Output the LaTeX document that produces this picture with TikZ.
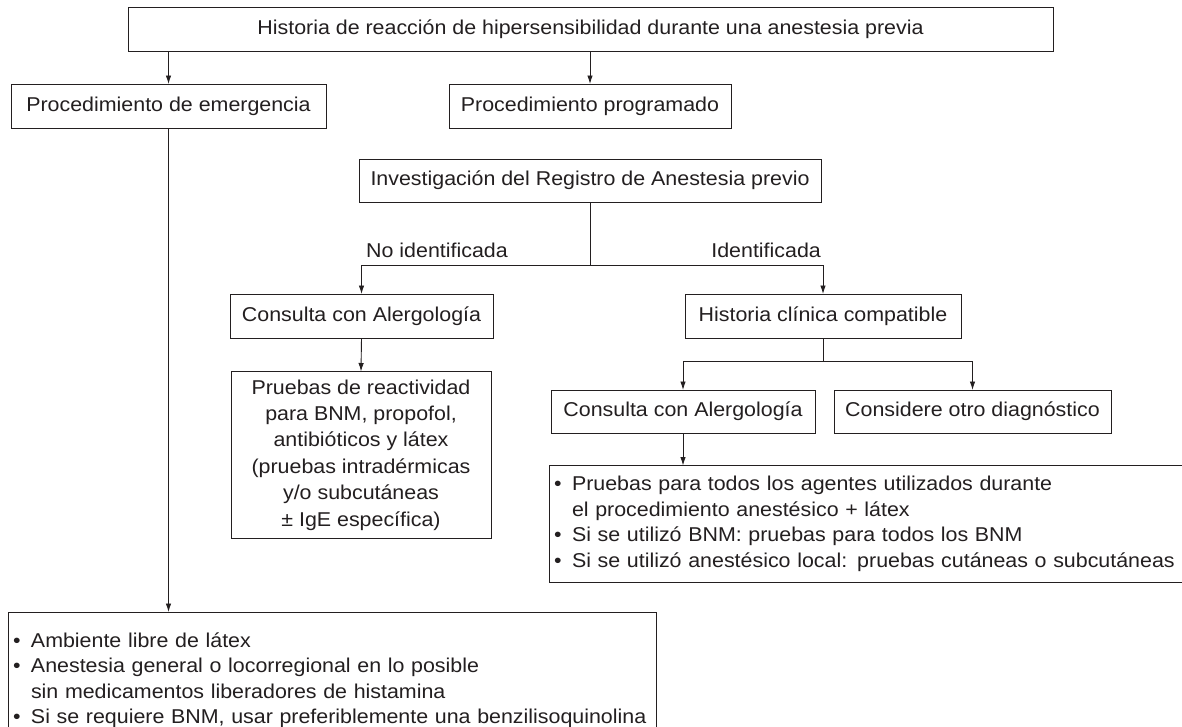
\documentclass[tikz,border=0pt]{standalone}
\usepackage{fontspec}
\setmainfont{Liberation Sans}[FakeStretch=1.07]
\usetikzlibrary{arrows.meta}
\definecolor{ink}{HTML}{231F20}
\begin{document}
\begin{tikzpicture}[x=1pt,y=-1pt,
  every node/.style={font=\fontsize{20}{25.5}\selectfont, text=ink},
  box/.style={draw=ink, line width=0.9pt, inner sep=0pt, outer sep=0pt, align=center},
  bulletbox/.style={draw=ink, line width=0.9pt, inner xsep=5pt, inner ysep=0pt, outer sep=0pt, align=left},
  arr/.style={draw=ink, line width=0.9pt, -{Latex[length=8.5pt,width=5.5pt]}},
  ln/.style={draw=ink, line width=0.9pt}]
\useasboundingbox (0,0) rectangle (1182,726);
\fill[white] (0,0) rectangle (1182,726);
\clip (0,0) rectangle (1182,726);

\node[box, minimum width=925pt, minimum height=44pt] (top) at (590.5,29)
  {Historia de reacción de hipersensibilidad durante una anestesia previa};
\node[box, minimum width=315pt, minimum height=44pt] (emer) at (168.5,106)
  {Procedimiento de emergencia};
\node[box, minimum width=282pt, minimum height=44pt] (prog) at (590,106)
  {Procedimiento programado};
\node[box, minimum width=462pt, minimum height=43pt] (inv) at (590,180.5)
  {Investigación del Registro de Anestesia previo};
\node[box, minimum width=263pt, minimum height=44pt] (consL) at (361.5,316)
  {Consulta con Alergología};
\node[box, minimum width=276pt, minimum height=44pt] (hist) at (823,316)
  {Historia clínica compatible};
\node[box, minimum width=260pt, minimum height=167pt,
  font=\fontsize{20}{26.4}\selectfont] (pru) at (361,455)
  {Pruebas de reactividad\\para BNM, propofol,\\antibióticos y látex\\(pruebas intradérmicas\\y/o subcutáneas\\± IgE específica)};
\node[box, minimum width=264pt, minimum height=43pt] (consR) at (683,411.5)
  {Consulta con Alergología};
\node[box, minimum width=277pt, minimum height=43pt] (consid) at (972.5,411.5)
  {Considere otro diagnóstico};
\node[bulletbox, minimum width=641pt, minimum height=117pt, text width=631pt] (bulR) at (869.5,524)
  {\makebox[18pt][l]{•}Pruebas para todos los agentes utilizados durante\\
   \hspace*{18pt}el procedimiento anestésico + látex\\
   \makebox[18pt][l]{•}Si se utilizó BNM: pruebas para todos los BNM\\
   \makebox[18pt][l]{•}Si se utilizó anestésico local: pruebas cutáneas o subcutáneas};
\node[bulletbox, minimum width=648pt, minimum height=136pt, text width=638pt] (bot) at (332,680)
  {\makebox[18pt][l]{•}Ambiente libre de látex\\
   \makebox[18pt][l]{•}Anestesia general o locorregional en lo posible\\
   \hspace*{18pt}sin medicamentos liberadores de histamina\\
   \makebox[18pt][l]{•}Si se requiere BNM, usar preferiblemente una benzilisoquinolina};

\node[anchor=base west, inner sep=0pt] (lno) at (366,257) {No identificada};
\node[anchor=base east, inner sep=0pt] (lyes) at (821,257) {Identificada};

\coordinate (s1) at (590,265);
\coordinate (s2) at (823,361);

\draw[arr] (top.south -| emer.north) -- (emer.north);
\draw[arr] (top.south -| prog.north) -- (prog.north);
\draw[arr] (emer.south) -- (emer.south |- bot.north);
\draw[ln] (inv.south) -- (s1);
\draw[arr] (s1) -| (consL.north);
\draw[arr] (s1) -| (hist.north);
\draw[arr] (consL.south) -- (pru.north);
\draw[ln] (hist.south) -- (s2);
\draw[arr] (s2) -| (consR.north);
\draw[arr] (s2) -| (consid.north);
\draw[arr] (consR.south) -- (consR.south |- bulR.north);
\end{tikzpicture}
\end{document}
